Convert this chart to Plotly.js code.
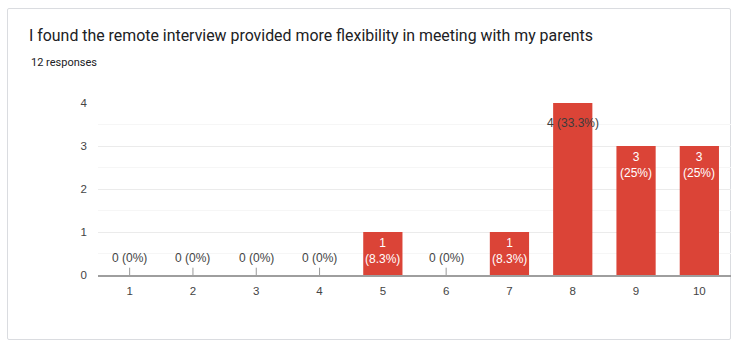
<!DOCTYPE html>
<html>
<head>
<meta charset="utf-8">
<script src="https://cdn.plot.ly/plotly-3.0.1.min.js"></script>
<style>
  html, body { margin: 0; padding: 0; background: #fff; }
  body { width: 733px; height: 343px; position: relative; overflow: hidden; }
  #card { position: absolute; left: 7px; top: 8px; width: 724px; height: 332px;
          border: 1px solid #dadce0; border-radius: 2px; box-sizing: border-box; }
  #chart { position: absolute; left: 0; top: 0; width: 733px; height: 343px; }
</style>
</head>
<body>
<div id="card"></div>
<div id="chart"></div>
<script>
const categories = ["1", "2", "3", "4", "5", "6", "7", "8", "9", "10"];
const counts = [0, 0, 0, 0, 1, 0, 1, 4, 3, 3];
const yTicks = [0, 1, 2, 3, 4];
const titleText = "I found the remote interview provided more flexibility in meeting with my parents";
const subtitleText = "12 responses";

const total = counts.reduce((a, b) => a + b, 0);
function pct(v) {
  const p = Math.round(v / total * 1000) / 10;
  return (p % 1 === 0 ? p.toFixed(0) : p.toFixed(1)) + "%";
}
const maxVal = Math.max(...counts);
const FONT = "Roboto, Arial, sans-serif";
const LFONT = "Arial, 'Liberation Sans', sans-serif";

const annotations = [];
const shapes = [];
categories.forEach((c, i) => {
  const v = counts[i];
  if (v === 0) {
    annotations.push({
      x: i, y: 0, xref: "x", yref: "y", text: v + " (" + pct(v) + ")",
      showarrow: false, yanchor: "bottom", yshift: 8,
      font: { family: LFONT, size: 12, color: "#444" }
    });
    shapes.push({ type: "line", xref: "x", yref: "y", x0: i, x1: i, y0: 0, y1: 0.17,
      line: { color: "#999", width: 1 } });
  } else if (v === maxVal) {
    annotations.push({
      x: i, y: v, xref: "x", yref: "y", text: v + " (" + pct(v) + ")",
      showarrow: false, yanchor: "top", yshift: -11,
      font: { family: LFONT, size: 12, color: "#3c3c3c" }
    });
  } else {
    annotations.push({
      x: i, y: v, xref: "x", yref: "y", text: v + "<br>(" + pct(v) + ")",
      showarrow: false, yanchor: "top", yshift: -2,
      font: { family: LFONT, size: 12, color: "#fff" }
    });
  }
});

annotations.push({
  xref: "paper", yref: "paper", x: (29 - 98) / 633, y: 1 + (103 - 62) / 172,
  xanchor: "left", yanchor: "middle", showarrow: false, text: subtitleText,
  font: { family: FONT, size: 11, color: "#202124" }
});

const trace = {
  type: "bar", x: categories, y: counts,
  marker: { color: "#db4437" }, width: 0.62,
  hoverinfo: "skip"
};

const layout = {
  width: 733, height: 343,
  margin: { l: 98, r: 2, t: 103, b: 68 },
  paper_bgcolor: "rgba(0,0,0,0)", plot_bgcolor: "rgba(0,0,0,0)",
  title: {
    text: titleText, xref: "container", yref: "container",
    x: 29 / 733, xanchor: "left", y: 1 - 35 / 343, yanchor: "middle",
    font: { family: FONT, size: 15.9, color: "#202124" }
  },
  xaxis: {
    type: "category", categoryarray: categories, range: [-0.5, categories.length - 0.5],
    showline: true, linecolor: "#9e9e9e", linewidth: 2,
    showgrid: false, ticks: "", ticklabelstandoff: 4,
    tickfont: { family: LFONT, size: 11.5, color: "#444" },
    fixedrange: true
  },
  yaxis: {
    range: [0, 4], tickvals: yTicks, ticktext: yTicks.map(String),
    showgrid: true, gridcolor: "#ebebeb", gridwidth: 1,
    minor: { dtick: 0.5, showgrid: true, gridcolor: "#f6f6f6", gridwidth: 1 },
    zeroline: false, ticks: "", ticklabelstandoff: 10,
    tickfont: { family: LFONT, size: 11.5, color: "#444" },
    fixedrange: true
  },
  annotations: annotations,
  shapes: shapes,
  showlegend: false
};

Plotly.newPlot("chart", [trace], layout, { displayModeBar: false, staticPlot: true });
</script>
</body>
</html>
